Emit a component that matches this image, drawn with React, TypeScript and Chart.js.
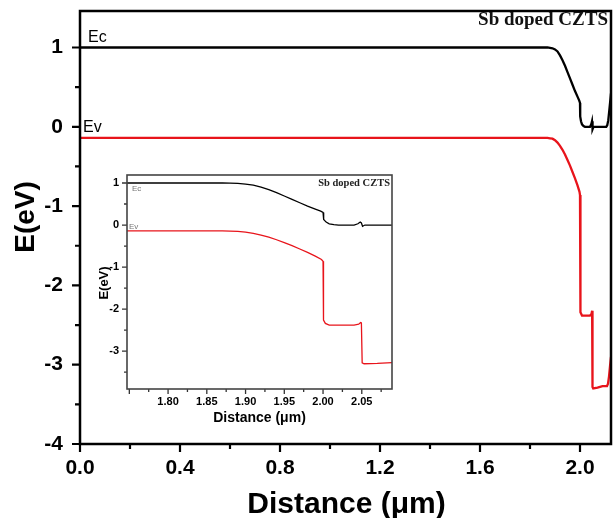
import React, { useEffect, useRef } from "react";
import { Chart, registerables } from "chart.js";
Chart.register(...registerables);

// ---- Data ----
// Conduction band edge Ec
const ecDistance = [0, 0.5, 1.0, 1.5, 1.8, 1.87, 1.88, 1.89, 1.9, 1.91, 1.92, 1.93, 1.94, 1.95, 1.96, 1.97, 1.98, 1.99, 1.997, 2.0, 2.0008, 2.004, 2.008, 2.014, 2.02, 2.04, 2.045, 2.048, 2.0495, 2.051, 2.054, 2.08, 2.105, 2.109, 2.113, 2.117, 2.124];
const ecEnergy = [1, 1, 1, 1, 1, 1, 0.995, 0.99, 0.975, 0.95, 0.9, 0.84, 0.77, 0.69, 0.61, 0.53, 0.45, 0.38, 0.33, 0.3, 0.13, 0.07, 0.03, 0.01, 0, 0, 0.03, 0.07, 0.05, -0.03, 0, 0, 0, 0.02, 0.08, 0.2, 0.42];
// Valence band edge Ev
const evDistance = [0, 0.5, 1.0, 1.5, 1.8, 1.87, 1.88, 1.89, 1.9, 1.91, 1.92, 1.93, 1.94, 1.95, 1.96, 1.97, 1.98, 1.99, 1.998, 2.0, 2.0006, 2.003, 2.008, 2.02, 2.04, 2.046, 2.0485, 2.0495, 2.0505, 2.053, 2.07, 2.09, 2.108, 2.112, 2.116, 2.12, 2.124];
const evEnergy = [-0.14, -0.14, -0.14, -0.14, -0.14, -0.14, -0.145, -0.15, -0.17, -0.2, -0.24, -0.29, -0.35, -0.42, -0.49, -0.57, -0.65, -0.74, -0.82, -0.86, -2.26, -2.34, -2.38, -2.38, -2.38, -2.36, -2.32, -2.33, -3.28, -3.3, -3.29, -3.27, -3.27, -3.24, -3.15, -3.02, -2.9];

// Tick labels
const mainXTicks = [0, 0.4, 0.8, 1.2, 1.6, 2.0];
const mainYTicks = [-4, -3, -2, -1, 0, 1];
const insetXTicks = [1.8, 1.85, 1.9, 1.95, 2.0, 2.05];
const insetYTicks = [-3, -2, -1, 0, 1];

// Texts
const titleText = "Sb doped CZTS";
const xTitle = "Distance (\u03bcm)";
const yTitle = "E(eV)";
const ecLabel = "Ec";
const evLabel = "Ev";

const SANS = '"Liberation Sans", Arial, sans-serif';
const SERIF = '"Liberation Serif", "Times New Roman", serif';
const RED = "#e8141b";

type TextItem = {
  text: string;
  x: (a: any, s: any) => number;
  y: (a: any, s: any) => number;
  font: string;
  color: string;
  align: CanvasTextAlign;
  baseline: CanvasTextBaseline;
  rotate?: number;
};

type Decor = {
  frameWidth: number;
  frameColor: string;
  tickWidth: number;
  tickColor: string;
  majorLen: number;
  minorLen: number;
  xStart: number;
  xMinor: number;
  xMajor: number;
  yStart: number;
  yMinor: number;
  yMajor: number;
  texts: TextItem[];
};

function isMultiple(v: number, step: number) {
  return Math.abs(v / step - Math.round(v / step)) < 1e-6;
}

function makeDecor(o: Decor) {
  return {
    id: "decor",
    afterDraw(chart: any) {
      const { ctx, chartArea: a, scales } = chart;
      const xs = scales.x;
      const ys = scales.y;
      ctx.save();
      // ticks
      ctx.strokeStyle = o.tickColor;
      ctx.lineWidth = o.tickWidth;
      ctx.beginPath();
      const nx = Math.round((xs.max - o.xStart) / o.xMinor);
      for (let i = 0; i <= nx; i++) {
        const v = o.xStart + i * o.xMinor;
        if (v < xs.min - 1e-9 || v > xs.max + 1e-9) continue;
        const p = xs.getPixelForValue(v);
        const len = isMultiple(v, o.xMajor) ? o.majorLen : o.minorLen;
        ctx.moveTo(p, a.bottom);
        ctx.lineTo(p, a.bottom + len);
      }
      const ny = Math.round((ys.max - o.yStart) / o.yMinor);
      for (let i = 0; i <= ny; i++) {
        const v = o.yStart + i * o.yMinor;
        if (v < ys.min - 1e-9 || v > ys.max + 1e-9) continue;
        const p = ys.getPixelForValue(v);
        const len = isMultiple(v, o.yMajor) ? o.majorLen : o.minorLen;
        ctx.moveTo(a.left, p);
        ctx.lineTo(a.left - len, p);
      }
      ctx.stroke();
      // frame
      ctx.strokeStyle = o.frameColor;
      ctx.lineWidth = o.frameWidth;
      ctx.strokeRect(a.left, a.top, a.right - a.left, a.bottom - a.top);
      // texts
      for (const t of o.texts) {
        ctx.save();
        ctx.font = t.font;
        ctx.fillStyle = t.color;
        ctx.textAlign = t.align;
        ctx.textBaseline = t.baseline;
        const x = t.x(a, scales);
        const y = t.y(a, scales);
        ctx.translate(x, y);
        if (t.rotate) ctx.rotate(t.rotate);
        ctx.fillText(t.text, 0, 0);
        ctx.restore();
      }
      ctx.restore();
    },
  };
}

type Spec = {
  xMin: number;
  xMax: number;
  yMin: number;
  yMax: number;
  xTicks: number[];
  yTicks: number[];
  xFmt: (v: number) => string;
  yFmt: (v: number) => string;
  padTop: number;
  padRight: number;
  yWidth: number;
  xHeight: number;
  lineWidth: number;
  tickFontSize: number;
  xPad: number;
  yPad: number;
  decor: Decor;
};

function build(canvas: HTMLCanvasElement, s: Spec) {
  const ec = ecDistance.map((x, i) => ({ x, y: ecEnergy[i] }));
  const ev = evDistance.map((x, i) => ({ x, y: evEnergy[i] }));
  const tickFont = { family: SANS, size: s.tickFontSize, weight: "bold" as const };
  return new Chart(canvas, {
    type: "scatter",
    data: {
      datasets: [
        { label: "Ec", data: ec, showLine: true, borderColor: "#000", borderWidth: s.lineWidth, pointRadius: 0, tension: 0 },
        { label: "Ev", data: ev, showLine: true, borderColor: RED, borderWidth: s.lineWidth, pointRadius: 0, tension: 0 },
      ],
    },
    options: {
      animation: false,
      responsive: false,
      devicePixelRatio: 1,
      layout: { padding: { top: s.padTop, right: s.padRight, left: 0, bottom: 0 } },
      plugins: { legend: { display: false }, tooltip: { enabled: false } },
      scales: {
        x: {
          type: "linear",
          min: s.xMin,
          max: s.xMax,
          grid: { display: false, drawTicks: false },
          border: { display: false },
          afterBuildTicks: (sc: any) => {
            sc.ticks = s.xTicks.map((v) => ({ value: v }));
          },
          afterFit: (sc: any) => {
            sc.height = s.xHeight;
            sc.paddingLeft = 0;
            sc.paddingRight = 0;
            sc.paddingTop = 0;
            sc.paddingBottom = 0;
          },
          ticks: {
            color: "#000",
            font: tickFont,
            padding: s.xPad,
            maxRotation: 0,
            autoSkip: false,
            callback: (v: any) => s.xFmt(Number(v)),
          },
        },
        y: {
          type: "linear",
          min: s.yMin,
          max: s.yMax,
          grid: { display: false, drawTicks: false },
          border: { display: false },
          afterBuildTicks: (sc: any) => {
            sc.ticks = s.yTicks.map((v) => ({ value: v }));
          },
          afterFit: (sc: any) => {
            sc.width = s.yWidth;
            sc.paddingLeft = 0;
            sc.paddingRight = 0;
            sc.paddingTop = 0;
            sc.paddingBottom = 0;
          },
          ticks: {
            color: "#000",
            font: tickFont,
            padding: s.yPad,
            autoSkip: false,
            callback: (v: any) => s.yFmt(Number(v)),
          },
        },
      },
    },
    plugins: [makeDecor(s.decor)],
  } as any);
}

export default function App() {
  const mainRef = useRef<HTMLCanvasElement>(null);
  const insetRef = useRef<HTMLCanvasElement>(null);

  useEffect(() => {
    const main = build(mainRef.current!, {
      xMin: 0,
      xMax: 2.124,
      yMin: -4,
      yMax: 1.46,
      xTicks: mainXTicks,
      yTicks: mainYTicks,
      xFmt: (v) => v.toFixed(1),
      yFmt: (v) => String(v),
      padTop: 11,
      padRight: 5,
      yWidth: 80,
      xHeight: 74,
      lineWidth: 2.3,
      tickFontSize: 21,
      xPad: 12,
      yPad: 17,
      decor: {
        frameWidth: 2.5,
        frameColor: "#000",
        tickWidth: 2.2,
        tickColor: "#000",
        majorLen: 8,
        minorLen: 5,
        xStart: 0,
        xMinor: 0.2,
        xMajor: 0.4,
        yStart: -4,
        yMinor: 0.5,
        yMajor: 1,
        texts: [
          { text: titleText, x: (a) => a.right - 3, y: (a) => a.top + 14, font: `bold 19px ${SERIF}`, color: "#111", align: "right", baseline: "alphabetic" },
          { text: ecLabel, x: (a) => a.left + 8, y: (a, sc) => sc.y.getPixelForValue(1) - 5, font: `16px ${SANS}`, color: "#000", align: "left", baseline: "alphabetic" },
          { text: evLabel, x: (a) => a.left + 3, y: (a, sc) => sc.y.getPixelForValue(0) + 5, font: `16px ${SANS}`, color: "#000", align: "left", baseline: "alphabetic" },
          { text: yTitle, x: () => 26, y: () => 217, font: `bold 28px ${SANS}`, color: "#000", align: "center", baseline: "middle", rotate: -Math.PI / 2 },
          { text: xTitle, x: (a) => (a.left + a.right) / 2 + 1, y: () => 505, font: `bold 30px ${SANS}`, color: "#000", align: "center", baseline: "middle" },
        ],
      },
    });

    const inset = build(insetRef.current!, {
      xMin: 1.747,
      xMax: 2.089,
      yMin: -3.9,
      yMax: 1.19,
      xTicks: insetXTicks,
      yTicks: insetYTicks,
      xFmt: (v) => v.toFixed(2),
      yFmt: (v) => String(v),
      padTop: 12,
      padRight: 10,
      yWidth: 39,
      xHeight: 42,
      lineWidth: 1.3,
      tickFontSize: 11,
      xPad: 6,
      yPad: 8,
      decor: {
        frameWidth: 1.6,
        frameColor: "#444",
        tickWidth: 1.3,
        tickColor: "#333",
        majorLen: 5,
        minorLen: 3,
        xStart: 1.75,
        xMinor: 0.025,
        xMajor: 0.05,
        yStart: -3.5,
        yMinor: 0.5,
        yMajor: 1,
        texts: [
          { text: titleText, x: (a) => a.right - 2, y: (a) => a.top + 11, font: `bold 10.5px ${SERIF}`, color: "#222", align: "right", baseline: "alphabetic" },
          { text: ecLabel, x: (a) => a.left + 5, y: (a, sc) => sc.y.getPixelForValue(1) + 8, font: `8px ${SANS}`, color: "#777", align: "left", baseline: "alphabetic" },
          { text: evLabel, x: (a) => a.left + 2, y: (a, sc) => sc.y.getPixelForValue(0) + 4, font: `8px ${SANS}`, color: "#777", align: "left", baseline: "alphabetic" },
          { text: yTitle, x: () => 16, y: () => 120, font: `bold 13px ${SANS}`, color: "#000", align: "center", baseline: "middle", rotate: -Math.PI / 2 },
          { text: xTitle, x: (a) => (a.left + a.right) / 2, y: () => 255, font: `bold 14px ${SANS}`, color: "#000", align: "center", baseline: "middle" },
        ],
      },
    });

    return () => {
      main.destroy();
      inset.destroy();
    };
  }, []);

  return (
    <div style={{ position: "fixed", left: 0, top: 0, width: 616, height: 518, background: "#fff" }}>
      <canvas ref={mainRef} width={616} height={518} style={{ position: "absolute", left: 0, top: 0, width: 616, height: 518 }} />
      <canvas ref={insetRef} width={314} height={268} style={{ position: "absolute", left: 88, top: 163, width: 314, height: 268 }} />
    </div>
  );
}
